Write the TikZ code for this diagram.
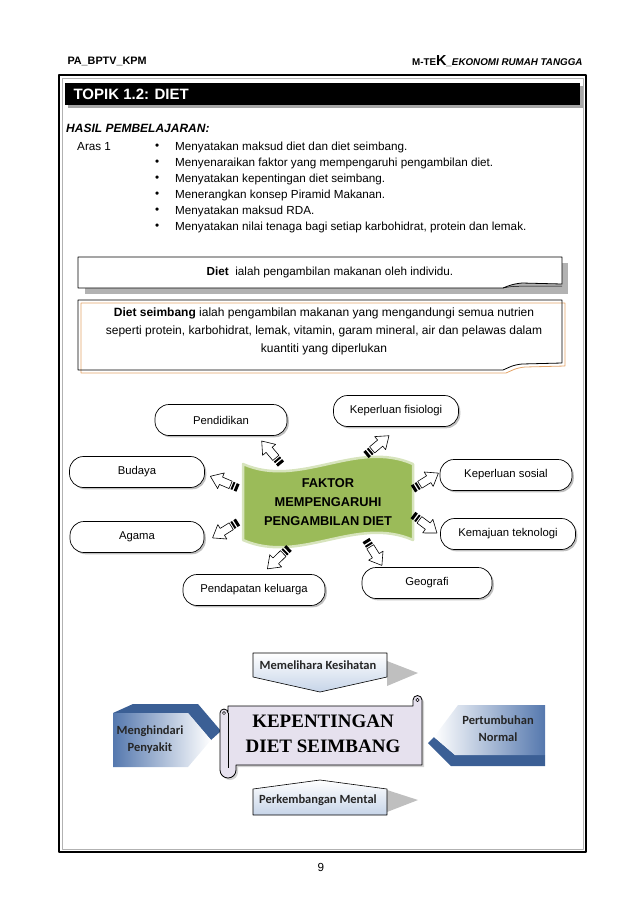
\documentclass[tikz,border=0pt]{standalone}
\usepackage{fontspec}
\setmainfont{Liberation Sans}
\newfontfamily\scrollfont{Liberation Serif}
\newfontfamily\calibrifont{Carlito}
\usetikzlibrary{calc,shadows}
\definecolor{flaggreen}{HTML}{9BBB59}
\definecolor{flagglow}{HTML}{D7E4BD}
\definecolor{boxorange}{HTML}{E4A56A}
\definecolor{bevelblue}{HTML}{3B5F95}
\definecolor{faceblue}{HTML}{5578AE}
\definecolor{lightblue}{HTML}{C6D4E8}
\definecolor{lavender}{HTML}{E6E1EE}
\newcommand\bodysize{\fontsize{11.7}{14}\selectfont}

\begin{document}
\begin{tikzpicture}[x=1pt, y=-1pt, line join=round]
    \tikzset{factor/.style = {draw, line width=0.7pt, rounded corners=14pt, fill=white, minimum width=132pt, minimum height=31pt, font=\fontsize{11.3}{13}\selectfont, drop shadow={shadow xshift=1.8pt, shadow yshift=-1.8pt, opacity=0.5}}}
    \tikzset{bodytext/.style = {anchor=west, inner sep=0pt, font=\bodysize}}
    \tikzset{calibri/.style = {font=\calibrifont\bfseries\fontsize{12.5}{17}\selectfont, align=center, text=black!85}}
    \tikzset{stripearrow/.pic = {
        \fill (0,-4) rectangle (3,4);
        \fill (4.5,-4) rectangle (6.5,4);
        \filldraw[fill=white, line width=0.6pt] (8,-4) -- (18.5,-4) -- (18.5,-8.5) -- (30,0) -- (18.5,8.5) -- (18.5,4) -- (8,4) -- cycle;
    }}
    \useasboundingbox (0,0) rectangle (638,903);

    % header and frame
    \node[anchor=west, font=\fontsize{10.8}{12}\selectfont\bfseries] (kod) at (64,61) {PA\_BPTV\_KPM};
    \node[anchor=east, font=\fontsize{9.8}{12}\selectfont\bfseries] (modul) at (586,61) {M-TE{\fontsize{14.5}{15}\selectfont K}\textit{\_EKONOMI RUMAH TANGGA}};
    \draw[black!30, line width=1pt] (62,78) rectangle (583,849);
    \draw[line width=2.5pt] (59,75) rectangle (586,852);
    \fill[black!35] (68,86) rectangle (583,108);
    \fill (65,83) rectangle (580,105);
    \node[anchor=west, text=white, font=\fontsize{15}{17}\selectfont\bfseries] (topik) at (70,94.5) {TOPIK 1.2: DIET};

    % learning outcomes
    \node[bodytext, font=\fontsize{12}{14}\selectfont\bfseries\itshape] (hasil) at (66,128) {HASIL PEMBELAJARAN:};
    \node[bodytext] (aras) at (77,147) {Aras 1};
    \foreach \txt [count=\i from 0] in {Menyatakan maksud diet dan diet seimbang.,
        Menyenaraikan faktor yang mempengaruhi pengambilan diet.,
        Menyatakan kepentingan diet seimbang.,
        Menerangkan konsep Piramid Makanan.,
        Menyatakan maksud RDA.,
        {Menyatakan nilai tenaga bagi setiap karbohidrat, protein dan lemak.}}{
        \node[bodytext] (titik\i) at (155,{147+16*\i}) {\textbullet};
        \node[bodytext] (hasil\i) at (175,{147+16*\i}) {\txt};
    }

    % definitions
    \fill[black!30] (85,263) rectangle (568,294);
    \filldraw[fill=white, line width=0.8pt] (78,257) -- (562,257) -- (562,284) -- (522,283) .. controls (512,284) and (508,286) .. (503,288) -- (78,288) -- cycle;
    \draw[line width=0.5pt] (503,288) .. controls (512,286) and (516,286) .. (562,286);
    \node[font=\bodysize] (diet) at (330,272) {\textbf{Diet}\ \ ialah pengambilan makanan oleh individu.};

    \filldraw[fill=white, draw=boxorange, line width=0.8pt] (81,303) -- (565,303) -- (565,366) -- (525,367) .. controls (515,368) and (511,371) .. (506,373) -- (81,373) -- cycle;
    \draw[line width=0.8pt] (78,300) -- (562,300) -- (562,363) -- (522,364) .. controls (512,365) and (508,368) .. (503,370) -- (78,370) -- cycle;
    \node[align=center, font=\fontsize{12}{18}\selectfont] (seimbang) at (324,331) {\textbf{Diet seimbang} ialah pengambilan makanan yang mengandungi semua nutrien\\seperti protein, karbohidrat, lemak, vitamin, garam mineral, air dan pelawas dalam\\kuantiti yang diperlukan};

    % factors
    \filldraw[fill=flaggreen, draw=flagglow, line width=2.5pt] (243,464) .. controls (300,489) and (356,439) .. (413,464) -- (413,540) .. controls (356,515) and (300,565) .. (243,540) -- cycle;
    \node[align=center, font=\fontsize{12.8}{19}\selectfont\bfseries] (faktor) at (328,502) {FAKTOR\\MEMPENGARUHI\\PENGAMBILAN DIET};

    \node[factor] (didik) at (221,420) {Pendidikan};
    \node[factor, minimum width=125pt] (fisio) at (396,411) {Keperluan fisiologi};
    \node[factor, minimum width=135pt] (budaya) at (137,472) {Budaya};
    \node[factor] (sosial) at (506,475) {Keperluan sosial};
    \node[factor, minimum width=134pt] (agama) at (137,537) {Agama};
    \node[factor, minimum width=135pt] (tekno) at (508,534) {Kemajuan teknologi};
    \node[factor, minimum width=142pt] (pendapatan) at (254,590) {Pendapatan keluarga};
    \node[factor, minimum width=130pt] (geo) at (427,583) {Geografi};

    \pic[rotate=130] at (281,464) {stripearrow};
    \pic[rotate=40] at (366,455) {stripearrow};
    \pic[rotate=157] at (238,488) {stripearrow};
    \pic[rotate=32] at (413,489) {stripearrow};
    \pic[rotate=212] at (238,522) {stripearrow};
    \pic[rotate=-37] at (413,515) {stripearrow};
    \pic[rotate=224] at (289,548) {stripearrow};
    \pic[rotate=-58] at (366,540) {stripearrow};

    % importance of balanced diet
    \fill[black!25] (387,661) -- (418,673) -- (387,686) -- cycle;
    \shadedraw[top color=white, bottom color=lightblue, line width=0.6pt] (253,653) -- (387,653) -- (387,677) -- (320,692) -- (253,677) -- cycle;
    \node[calibri] (sihat) at (318,665) {Memelihara Kesihatan};

    \fill[black!25] (387,790) -- (418,800) -- (387,812) -- cycle;
    \shadedraw[top color=white, bottom color=lightblue, line width=0.6pt] (253,789) -- (320,780) -- (387,789) -- (387,815) -- (253,815) -- cycle;
    \node[calibri] (mental) at (318,800) {Perkembangan Mental};

    \fill[bevelblue] (113,713) -- (133,704) -- (198,704) -- (221,731) -- (211,740) -- (188,713) -- cycle;
    \shade[left color=faceblue, right color=white] (113,713) -- (188,713) -- (211,740) -- (188,767) -- (113,767) -- cycle;
    \node[calibri] (penyakit) at (150,740) {Menghindari\\Penyakit};

    \fill[bevelblue] (434,737) -- (455,755) -- (545,755) -- (545,766) -- (451,766) -- (428,743) -- cycle;
    \shade[left color=white, right color=faceblue] (545,705) -- (458,705) -- (434,737) -- (455,755) -- (545,755) -- cycle;
    \node[calibri] (tumbuh) at (498,729) {Pertumbuhan\\Normal};

    \filldraw[fill=lavender, line width=0.8pt, drop shadow={shadow xshift=2pt, shadow yshift=-2pt, opacity=0.35}] (220,713) arc (180:360:4) -- (228,706) -- (413,706) -- (413,700) arc (180:360:4.5) -- (422,765) -- (236,765) -- (236,770) arc (0:180:8) -- cycle;
    \draw[line width=0.6pt] (228,713) -- (228,768);
    \draw[line width=0.5pt] (224,713) circle (1.6) (417.5,700) circle (1.8);
    \node[align=center, font=\scrollfont\bfseries\fontsize{19}{25}\selectfont] (penting) at (323,734) {KEPENTINGAN\\DIET SEIMBANG};

    \node[font=\bodysize] (muka) at (321,867) {9};
\end{tikzpicture}
\end{document}
